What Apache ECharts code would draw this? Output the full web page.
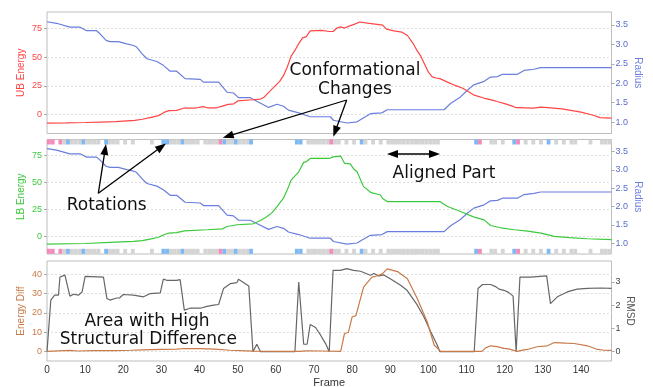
<!DOCTYPE html>
<html><head><meta charset="utf-8">
<script src="https://cdn.jsdelivr.net/npm/echarts@6/dist/echarts.min.js"></script>
<style>html,body{margin:0;padding:0;background:#fff}#c{width:653px;height:387px}</style>
</head><body><div id="c"></div>
<script>
// ---------- data ----------
const frameMax = 148;
const frameTicks = [0, 10, 20, 30, 40, 50, 60, 70, 80, 90, 100, 110, 120, 130, 140];
const ubTicks = [0, 25, 50, 75];
const lbTicks = [0, 25, 50, 75];
const radiusTicks = [1.0, 1.5, 2.0, 2.5, 3.0, 3.5];
const diffTicks = [0, 10, 20, 30, 40];
const rmsdTicks = [0, 1, 2, 3];

const ubEnergy = [[0,-7.3],[5,-7.2],[10,-6.8],[14,-6.4],[18,-6],[23,-5],[25,-4],[27,-2.5],[29,-1],[30,0.5],[31,2.5],[32,3.5],[34,3.8],[36,5.8],[39,5.8],[41,7],[42,6],[44.5,6],[46,7.5],[47.5,9],[49,9.5],[50,12],[54,13],[56,13.6],[57,15.5],[58,19],[59.5,24],[61,29],[62,34],[63,41.5],[64,51],[65,56],[66,62],[67,67],[68,68],[69,73],[72,73.5],[74,72.5],[75,72.5],[76,75.5],[77,76.5],[78,75.5],[79,77],[80.5,78.7],[82,80.8],[84,79.8],[86,79],[88,78],[89,74.5],[91,73],[93,72],[94.5,69],[96,62],[97,56],[98,51],[99,44],[100,37],[101,33],[102,32],[103,31.4],[105,28.4],[107,25.5],[109,23],[110,21],[112,17],[114.5,14.5],[117,12.5],[118,11.5],[120,9.6],[122,7.5],[123,6.1],[127.5,5.8],[129.5,6.6],[132,6],[135,5],[137,4],[140,2.3],[143,-0.3],[145,-2.6],[148,-3]];

const lbEnergy = [[0,-7],[10,-6.5],[16.5,-5.5],[22.7,-4.6],[25,-3.8],[27,-2.4],[29,-1],[30,0.5],[31,2],[32,3],[34,3.5],[36,5.2],[42,6.2],[46,7],[47.2,9.2],[49.8,10.8],[54,11.7],[56,14.7],[57.7,18.4],[59,22],[60.3,27.6],[62,35.3],[63,43],[64,52],[66,59.7],[67.3,68.4],[68,69],[69,72],[74,72],[75,73.5],[77,74.2],[78,67.5],[79.5,67],[80.5,62],[81.3,59.8],[82,54],[83,46],[85,40.4],[87.4,38.3],[88,35],[89.2,32.2],[103,32.2],[105,27.6],[108.4,23],[112,17.8],[114.6,15.3],[116.3,10.1],[119,8],[122.5,6.2],[126,5],[129.5,3.1],[133,0],[137,-1],[141.7,-2.1],[148,-3]];

const radius = [[0,3.58],[2.5,3.54],[6,3.44],[8.7,3.44],[10.4,3.35],[13,3.35],[13.9,3.27],[15.5,3.1],[16.5,3.07],[18.7,3.07],[20.9,3.01],[22.7,2.97],[23.5,2.93],[25,2.75],[26.2,2.63],[28.8,2.56],[30.5,2.46],[32.3,2.31],[34,2.31],[36.2,2.12],[40.2,2.1],[41,2.03],[45,2.03],[47.2,1.77],[48.9,1.75],[50.2,1.63],[53.3,1.63],[55,1.54],[58.1,1.38],[60.3,1.46],[62,1.41],[63.3,1.31],[66,1.24],[69,1.14],[74.3,1.14],[75.1,1.05],[78.6,0.98],[81.3,1.01],[82.6,1.09],[84.8,1.22],[87.8,1.24],[89.2,1.32],[104.1,1.32],[105.8,1.48],[108.4,1.65],[110.2,1.82],[111.9,1.96],[114.6,2.05],[116.3,2.16],[118.1,2.17],[119.4,2.23],[123.3,2.23],[125.1,2.33],[127.7,2.36],[129.4,2.4],[148,2.4]];

const energyDiff = [[0,0],[3,0.3],[6,0.5],[8,0.2],[12,0.4],[18,0.4],[22,0.6],[25,0.8],[30,1.0],[34,1.2],[36,1.5],[40,1.4],[44,1.2],[48,0.6],[52,0.3],[54,0.1],[60,0],[66,0],[68,0.3],[72,0.2],[77,0],[78,9.3],[79,9.8],[80,17.9],[81,18.6],[83,33.4],[85.2,38.6],[86.5,39.2],[87.9,40.3],[89.2,42.9],[91.9,41.5],[94.5,37.8],[97.1,27.4],[99.7,15.3],[101.5,3.3],[103.2,0],[114,0],[115,1.8],[116.3,2.9],[118,2.5],[119.8,1.6],[121,1.3],[123.3,0],[125,0.8],[126,1],[128.5,2.4],[131.2,2.9],[133,4.6],[136,4.3],[138.2,4.1],[141.7,2.9],[144.3,1],[146,0.6],[148,0.5]];

const rmsd = [[0,0],[1,2.22],[2,2.43],[3,2.43],[3.4,3.21],[4.7,3.29],[6,2.39],[7,2.47],[8.2,2.43],[9.2,2.57],[10,3.24],[14.8,3.21],[15.7,2.29],[16.5,2.22],[18.3,2.31],[19,2.31],[20,2.46],[22.7,2.43],[25.3,2.36],[27.1,2.5],[29.7,2.53],[30.5,3.12],[31.4,3.07],[34,3.07],[34.9,3.1],[36,1.79],[37.5,1.87],[40.2,1.87],[41.9,1.95],[43.7,2.0],[45,2.03],[46.3,2.72],[48.1,2.93],[49.8,2.97],[50.2,3.12],[52.9,2.83],[53.3,2.83],[54,0],[55,0.32],[56,0],[65,0],[66,3.0],[67.3,0.32],[68.2,0.32],[69,1.17],[70.4,1.04],[71.7,0.72],[73,0.36],[74,0],[75,3.5],[76.9,3.5],[78.6,3.57],[80.4,3.5],[82.2,3.46],[84.8,3.29],[85.7,3.36],[87,3.26],[88.3,3.3],[90,3.14],[92.7,2.86],[94.4,2.64],[97.1,2.0],[98.8,1.5],[100.6,0.86],[102.3,0.29],[103,0],[112,0],[113,2.72],[114.2,2.89],[116.3,2.89],[117.6,2.8],[118.5,2.69],[119.8,2.64],[121,2.55],[122.2,2.39],[123,0],[124,3.21],[126.8,3.21],[131,3.26],[132,2.07],[133.8,2.36],[136.4,2.57],[139,2.69],[141.7,2.72],[145.2,2.74],[148,2.72]];

// per-frame strip: 0 none, 1 aligned (grey), 2 rotation (blue), 3 conformational change (pink)
const stripCodes = [3,3,0,3,1,2,1,1,1,2, 1,1,1,1,0,2,1,1,1,0, 1,0,1,0,0,0,0,1,0,0, 2,2,1,1,1,2,1,1,1,1, 0,1,1,1,1,3,2,1,1,2, 1,1,1,2,0,0,0,0,0,0, 0,0,0,0,0,2,2,0,1,1, 1,1,1,1,3,1,1,0,1,0, 1,0,2,1,0,1,0,1,0,1, 1,1,1,1,1,1,1,1,1,1, 1,1,1,0,0,0,0,0,0,0, 0,0,2,3,0,0,1,1,0,1, 0,0,2,3,0,1,0,1,0,1, 0,2,0,1,0,1,0,1,1,0, 0,0,1,0,0,1,1,1];
const stripColors = [null, '#d4d4d4', '#7fb9f3', '#f58bbb'];

// ---------- styling ----------
const C = {ub:'#ff4545', lb:'#3dc93d', rad:'#6a7ede', radLbl:'#5a6ccc', diff:'#c97a48', rmsd:'#666666', grid:'#bdbdbd'};
const F = 'Liberation Sans, Arial, sans-serif';

const grids = [
  {left:47, width:564.5, top:12,    height:121.5},
  {left:47, width:564.5, top:139.5, height:114.5},
  {left:47, width:564.5, top:261,   height:100},
  {left:47, width:564.5, top:139.5, height:5},
  {left:47, width:564.5, top:248.8, height:5}
].map((g,i)=>Object.assign({show:i<3, borderColor:C.grid, borderWidth:1, backgroundColor:'transparent', containLabel:false, outerBoundsMode:'none'}, g));

function xAx(gi, showLabels){
  return {type:'value', gridIndex:gi, min:0, max:frameMax, interval:10,
    axisLine:{show:false}, splitLine:{show:false},
    axisTick:{show:false},
    axisLabel:{show:showLabels, customValues:frameTicks, color:'#333', fontSize:10, fontFamily:F, margin:4},
    name: showLabels ? 'Frame' : '', nameLocation:'middle', nameGap:16, nameMoveOverlap:false,
    nameTextStyle:{color:'#333', fontSize:11, fontFamily:F}};
}
function yAx(gi, pos, min, max, ticks, name, color, labelColor, nameGap, split, fmt){
  return {type:'value', gridIndex:gi, position:pos, min, max,
    name, nameLocation:'middle', nameGap, nameRotate: pos==='left'?90:-90, nameMoveOverlap:false,
    nameTextStyle:{color, fontSize:10, fontFamily:F},
    axisLine:{show:false},
    axisTick:{show:true, length:3, customValues:ticks, lineStyle:{color:'#aaa'}},
    axisLabel:{customValues:ticks, color:labelColor, fontSize:9, fontFamily:F, margin:pos==='left'?5:4, formatter:fmt},
    splitLine:{show:split, lineStyle:{color:'#dedede', type:[2,2], width:1}}};
}
const f1 = v => Number(v).toFixed(1);
const f0 = v => String(Math.round(v));

const yAxes = [
  yAx(0,'left', -16.4, 89.5, ubTicks, 'UB Energy', C.ub, C.ub, 21, true, f0),
  yAx(0,'right', 0.71, 3.83, radiusTicks, 'Radius', C.rad, C.radLbl, 21, false, f1),
  yAx(1,'left', -16.2, 89.5, lbTicks, 'LB Energy', C.lb, C.lb, 21, true, f0),
  yAx(1,'right', 0.71, 3.83, radiusTicks, 'Radius', C.rad, C.radLbl, 21, false, f1),
  yAx(2,'left', -5, 47, diffTicks, 'Energy Diff', C.diff, C.diff, 21, true, f0),
  yAx(2,'right', -0.4, 3.9, rmsdTicks, 'RMSD', '#555', '#444', 13, false, f0),
  {type:'value', gridIndex:3, min:0, max:1, show:false},
  {type:'value', gridIndex:4, min:0, max:1, show:false}
];

function line(xi, yi, data, color, z){
  return {type:'line', xAxisIndex:xi, yAxisIndex:yi, data, showSymbol:false, symbol:'none',
    lineStyle:{color, width:1.2}, itemStyle:{color}, silent:true, animation:false, z:z||2};
}
const stripData = stripCodes.map((c,i)=>[i,c]);
function strip(idx){
  return {type:'custom', xAxisIndex:idx, yAxisIndex:idx+3, data:stripData, silent:true, animation:false, z:5,
    renderItem(params, api){
      const code = api.value(1);
      if (!code) return null;
      const f = api.value(0);
      const p0 = api.coord([f, 1]), p1 = api.coord([f + 1, 0]);
      return {type:'rect', shape:{x:p0[0], y:p0[1], width:p1[0]-p0[0], height:p1[1]-p0[1]}, style:{fill:stripColors[code]}};
    }};
}

// ---------- annotations ----------
const labels = [
  {t:'Conformational', x:355, y:71},
  {t:'Changes', x:355, y:89.5},
  {t:'Rotations', x:106.7, y:205.5},
  {t:'Aligned Part', x:444, y:173.5},
  {t:'Area with High', x:147, y:321.5},
  {t:'Structural Difference', x:148.3, y:340}
];
const arrows = [
  [346.7,100,222.7,137.7,false,true],
  [346.7,100,333.3,136.7,false,true],
  [98.3,193.3,106,144,false,true],
  [98.3,193.3,166,143.5,false,true],
  [387,154,440,154,true,true]
];
const graphic = [];
labels.forEach(l=>graphic.push({type:'text', silent:true, z:100,
  style:{text:l.t, x:l.x, y:l.y, fill:'#111', fontSize:17, fontFamily:'DejaVu Sans', align:'center', verticalAlign:'middle'}}));
function head(tx,ty,ux,uy){
  const L=11, W=4;
  const bx=tx-ux*L, by=ty-uy*L;
  return {pts:[[tx,ty],[bx-uy*W,by+ux*W],[bx+uy*W,by-ux*W]], bx, by};
}
arrows.forEach(a=>{
  let [x1,y1,x2,y2,hs,he]=a;
  const d=Math.hypot(x2-x1,y2-y1), ux=(x2-x1)/d, uy=(y2-y1)/d;
  let sx=x1, sy=y1, ex=x2, ey=y2;
  if (he){ const h=head(x2,y2,ux,uy); graphic.push({type:'polygon', silent:true, z:100, shape:{points:h.pts}, style:{fill:'#000'}}); ex=h.bx+ux*2; ey=h.by+uy*2; }
  if (hs){ const h=head(x1,y1,-ux,-uy); graphic.push({type:'polygon', silent:true, z:100, shape:{points:h.pts}, style:{fill:'#000'}}); sx=h.bx-ux*2; sy=h.by-uy*2; }
  graphic.push({type:'line', silent:true, z:100, shape:{x1:sx,y1:sy,x2:ex,y2:ey}, style:{stroke:'#000', lineWidth:1.3}});
});

const chart = echarts.init(document.getElementById('c'), null, {renderer:'canvas'});
chart.setOption({
  animation:false,
  backgroundColor:'#fff',
  grid: grids,
  xAxis: [xAx(0,false), xAx(1,false), xAx(2,true), {type:'value', gridIndex:3, min:0, max:frameMax, show:false}, {type:'value', gridIndex:4, min:0, max:frameMax, show:false}],
  yAxis: yAxes,
  series: [
    line(0,1,radius,C.rad), line(0,0,ubEnergy,C.ub,3),
    line(1,3,radius,C.rad), line(1,2,lbEnergy,C.lb,3),
    line(2,5,rmsd,C.rmsd), line(2,4,energyDiff,C.diff,3),
    strip(3), strip(4)
  ],
  graphic
});
</script></body></html>
